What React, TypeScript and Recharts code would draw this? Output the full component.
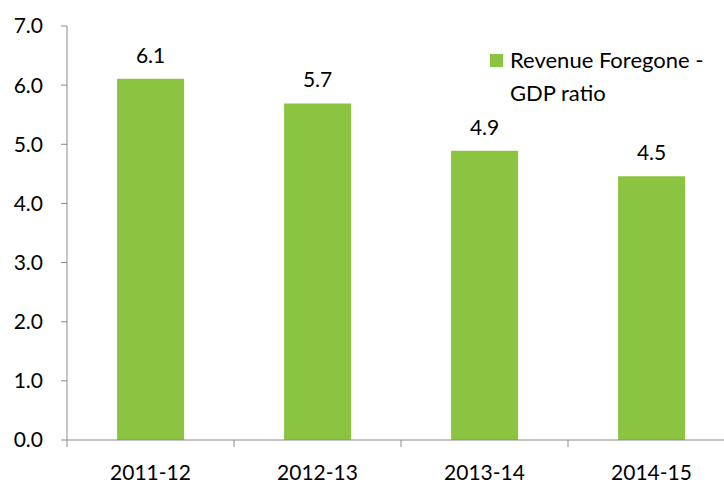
import React from "react";
import { BarChart, Bar, XAxis, YAxis, LabelList, Legend } from "recharts";

// ── data ────────────────────────────────────────────────────────────────
const years = ["2011-12", "2012-13", "2013-14", "2014-15"];
const ratio = [6.11, 5.69, 4.89, 4.46];
const yTicks = [0, 1, 2, 3, 4, 5, 6, 7];
const seriesName = "Revenue Foregone - GDP ratio";

const data = years.map((year, i) => ({ year, ratio: ratio[i] }));

const FONT = "Lato, 'Open Sans', sans-serif";
const GREEN = "#8BC441";
const AXIS = "#8a8a8a";

function YearTick(props: any) {
  const { x, y, payload, index } = props;
  const half = payload?.offset ?? 83.5;
  return (
    <g>
      <line x1={x - half} y1={y} x2={x - half} y2={y + 7} stroke={AXIS} />
      {index === years.length - 1 && (
        <line x1={x + half} y1={y} x2={x + half} y2={y + 7} stroke={AXIS} />
      )}
      <text x={x} y={y + 40} textAnchor="middle" fontSize={21} fontFamily={FONT} fill="#000">
        {payload.value}
      </text>
    </g>
  );
}

function LegendBox() {
  return (
    <div style={{ display: "flex", fontFamily: FONT, fontSize: 22, lineHeight: "33px", color: "#000" }}>
      <div style={{ width: 13, height: 13, background: GREEN, marginTop: 11, marginRight: 7, flexShrink: 0 }} />
      <div style={{ width: 215 }}>{seriesName}</div>
    </div>
  );
}

export default function App() {
  return (
    <div style={{ position: "absolute", left: 0, top: 0, width: 724, height: 484, overflow: "hidden", background: "#fff" }}>
      <BarChart
        width={760}
        height={484}
        data={data}
        margin={{ top: 26, right: 25, left: 0, bottom: 0 }}
        barCategoryGap="30%"
      >
        <XAxis
          dataKey="year"
          height={44}
          stroke={AXIS}
          tickLine={false}
          tickSize={0}
          tickMargin={0}
          tick={<YearTick />}
          interval={0}
        />
        <YAxis
          width={67}
          domain={[0, 7]}
          ticks={yTicks}
          interval={0}
          stroke={AXIS}
          tickSize={6}
          tickMargin={18}
          tickFormatter={(v) => Number(v).toFixed(1)}
          tick={{ fontSize: 21, fontFamily: FONT, fill: "#000" }}
        />
        <Legend
          layout="vertical"
          align="center"
          verticalAlign="middle"
          wrapperStyle={{ position: "absolute", left: 490, top: 43, width: 240 }}
          content={() => <LegendBox />}
        />
        <Bar dataKey="ratio" name={seriesName} fill={GREEN} isAnimationActive={false}>
          <LabelList
            dataKey="ratio"
            position="top"
            offset={16}
            formatter={(v: any) => Number(v).toFixed(1)}
            style={{ fontSize: 21, fontFamily: FONT, fill: "#000" }}
          />
        </Bar>
      </BarChart>
    </div>
  );
}
